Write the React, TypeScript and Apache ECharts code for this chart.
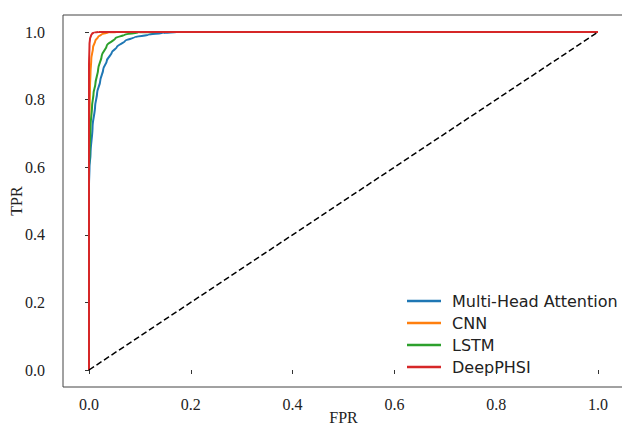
import React, { useEffect, useRef } from "react";
import * as echarts from "echarts";

const seriesNames = ["Multi-Head Attention", "CNN", "LSTM", "DeepPHSI"];
const seriesColors = ["#1f77b4", "#ff7f0e", "#2ca02c", "#d62728"];

const mhaFpr = [0, 0, 0.001, 0.003, 0.007, 0.012, 0.016, 0.022, 0.028, 0.035, 0.045, 0.055, 0.071, 0.09, 0.117, 0.145, 0.175, 0.3, 0.5, 1.0];
const mhaTpr = [0, 0.55, 0.6, 0.64, 0.72, 0.78, 0.82, 0.855, 0.89, 0.915, 0.94, 0.956, 0.974, 0.985, 0.992, 0.997, 1.0, 1.0, 1.0, 1.0];

const cnnFpr = [0, 0, 0.001, 0.002, 0.003, 0.0045, 0.008, 0.0124, 0.018, 0.025, 0.039, 0.06, 1.0];
const cnnTpr = [0, 0.62, 0.75, 0.84, 0.88, 0.92, 0.955, 0.974, 0.986, 0.993, 0.999, 1.0, 1.0];

const lstmFpr = [0, 0, 0.001, 0.003, 0.006, 0.009, 0.0125, 0.018, 0.025, 0.035, 0.052, 0.07, 0.098, 0.15, 1.0];
const lstmTpr = [0, 0.6, 0.64, 0.72, 0.78, 0.82, 0.846, 0.89, 0.93, 0.96, 0.982, 0.992, 0.999, 1.0, 1.0];

const deepFpr = [0, 0, 0.001, 0.002, 0.004, 0.006, 0.01, 0.02, 1.0];
const deepTpr = [0, 0.9, 0.965, 0.98, 0.99, 0.995, 0.999, 1.0, 1.0];

const chanceFpr = [0, 1];
const chanceTpr = [0, 1];

const tickValues = [0, 0.2, 0.4, 0.6, 0.8, 1.0];

const fprs = [mhaFpr, cnnFpr, lstmFpr, deepFpr];
const tprs = [mhaTpr, cnnTpr, lstmTpr, deepTpr];

const zip = (xs: number[], ys: number[]) => xs.map((x, i) => [x, ys[i]]);

export default function App() {
  const ref = useRef<HTMLDivElement>(null);
  useEffect(() => {
    if (!ref.current) return;
    const chart = echarts.init(ref.current, null, { renderer: "svg" });
    const serif = "Liberation Serif";
    const tickColor = "#333";
    const fmt = (v: number) => (tickValues.some((t) => Math.abs(t - v) < 1e-9) ? v.toFixed(1) : "");
    chart.setOption({
      animation: false,
      backgroundColor: "#fff",
      grid: { left: 89, right: 24, top: 32, bottom: 56, containLabel: false, outerBoundsMode: "none" },
      xAxis: {
        type: "value",
        min: 0,
        max: 1,
        interval: 0.2,
        offset: 17,
        axisLine: { show: false },
        axisTick: { show: true, length: 4, lineStyle: { color: tickColor, width: 1 } },
        splitLine: { show: false },
        axisLabel: { formatter: fmt, fontFamily: serif, fontSize: 16, color: "#222", margin: 9 },
        name: "FPR",
        nameLocation: "middle",
        nameGap: 22,
        nameMoveOverlap: false,
        nameTextStyle: { fontFamily: serif, fontSize: 16, color: "#222" },
      },
      yAxis: {
        type: "value",
        min: 0,
        max: 1,
        interval: 0.2,
        offset: 26,
        axisLine: { show: false },
        axisTick: { show: true, length: 4, lineStyle: { color: tickColor, width: 1 } },
        splitLine: { show: false },
        axisLabel: { formatter: fmt, fontFamily: serif, fontSize: 16, color: "#222", margin: 18 },
        name: "TPR",
        nameLocation: "middle",
        nameGap: 39,
        nameMoveOverlap: false,
        nameRotate: 90,
        nameTextStyle: { fontFamily: serif, fontSize: 16, color: "#222" },
      },
      legend: {
        orient: "vertical",
        left: 407,
        top: 290,
        padding: 0,
        itemGap: 0,
        itemWidth: 34,
        itemHeight: 2.5,
        icon: "rect",
        data: seriesNames,
        textStyle: { fontFamily: "DejaVu Sans", fontSize: 16, color: "#222", lineHeight: 22, padding: [0, 0, 0, 6] },
      },
      graphic: [
        {
          type: "rect",
          shape: { x: 63, y: 15, width: 560, height: 372 },
          style: { fill: "none", stroke: "#444", lineWidth: 1 },
          silent: true,
          z: -1,
        },
      ],
      series: [
        ...seriesNames.map((name, i) => ({
          name,
          type: "line",
          data: zip(fprs[i], tprs[i]),
          showSymbol: false,
          symbol: "none",
          smooth: 0.3,
          smoothMonotone: "y",
          lineStyle: { color: seriesColors[i], width: 2 },
          itemStyle: { color: seriesColors[i] },
          clip: false,
        })),
        {
          name: "chance",
          type: "line",
          data: zip(chanceFpr, chanceTpr),
          symbol: "none",
          lineStyle: { color: "#000", width: 1.5, type: [6, 3] },
        },
      ],
    });
    return () => chart.dispose();
  }, []);
  return <div ref={ref} style={{ position: "absolute", left: 0, top: 0, width: 622, height: 426 }} />;
}
